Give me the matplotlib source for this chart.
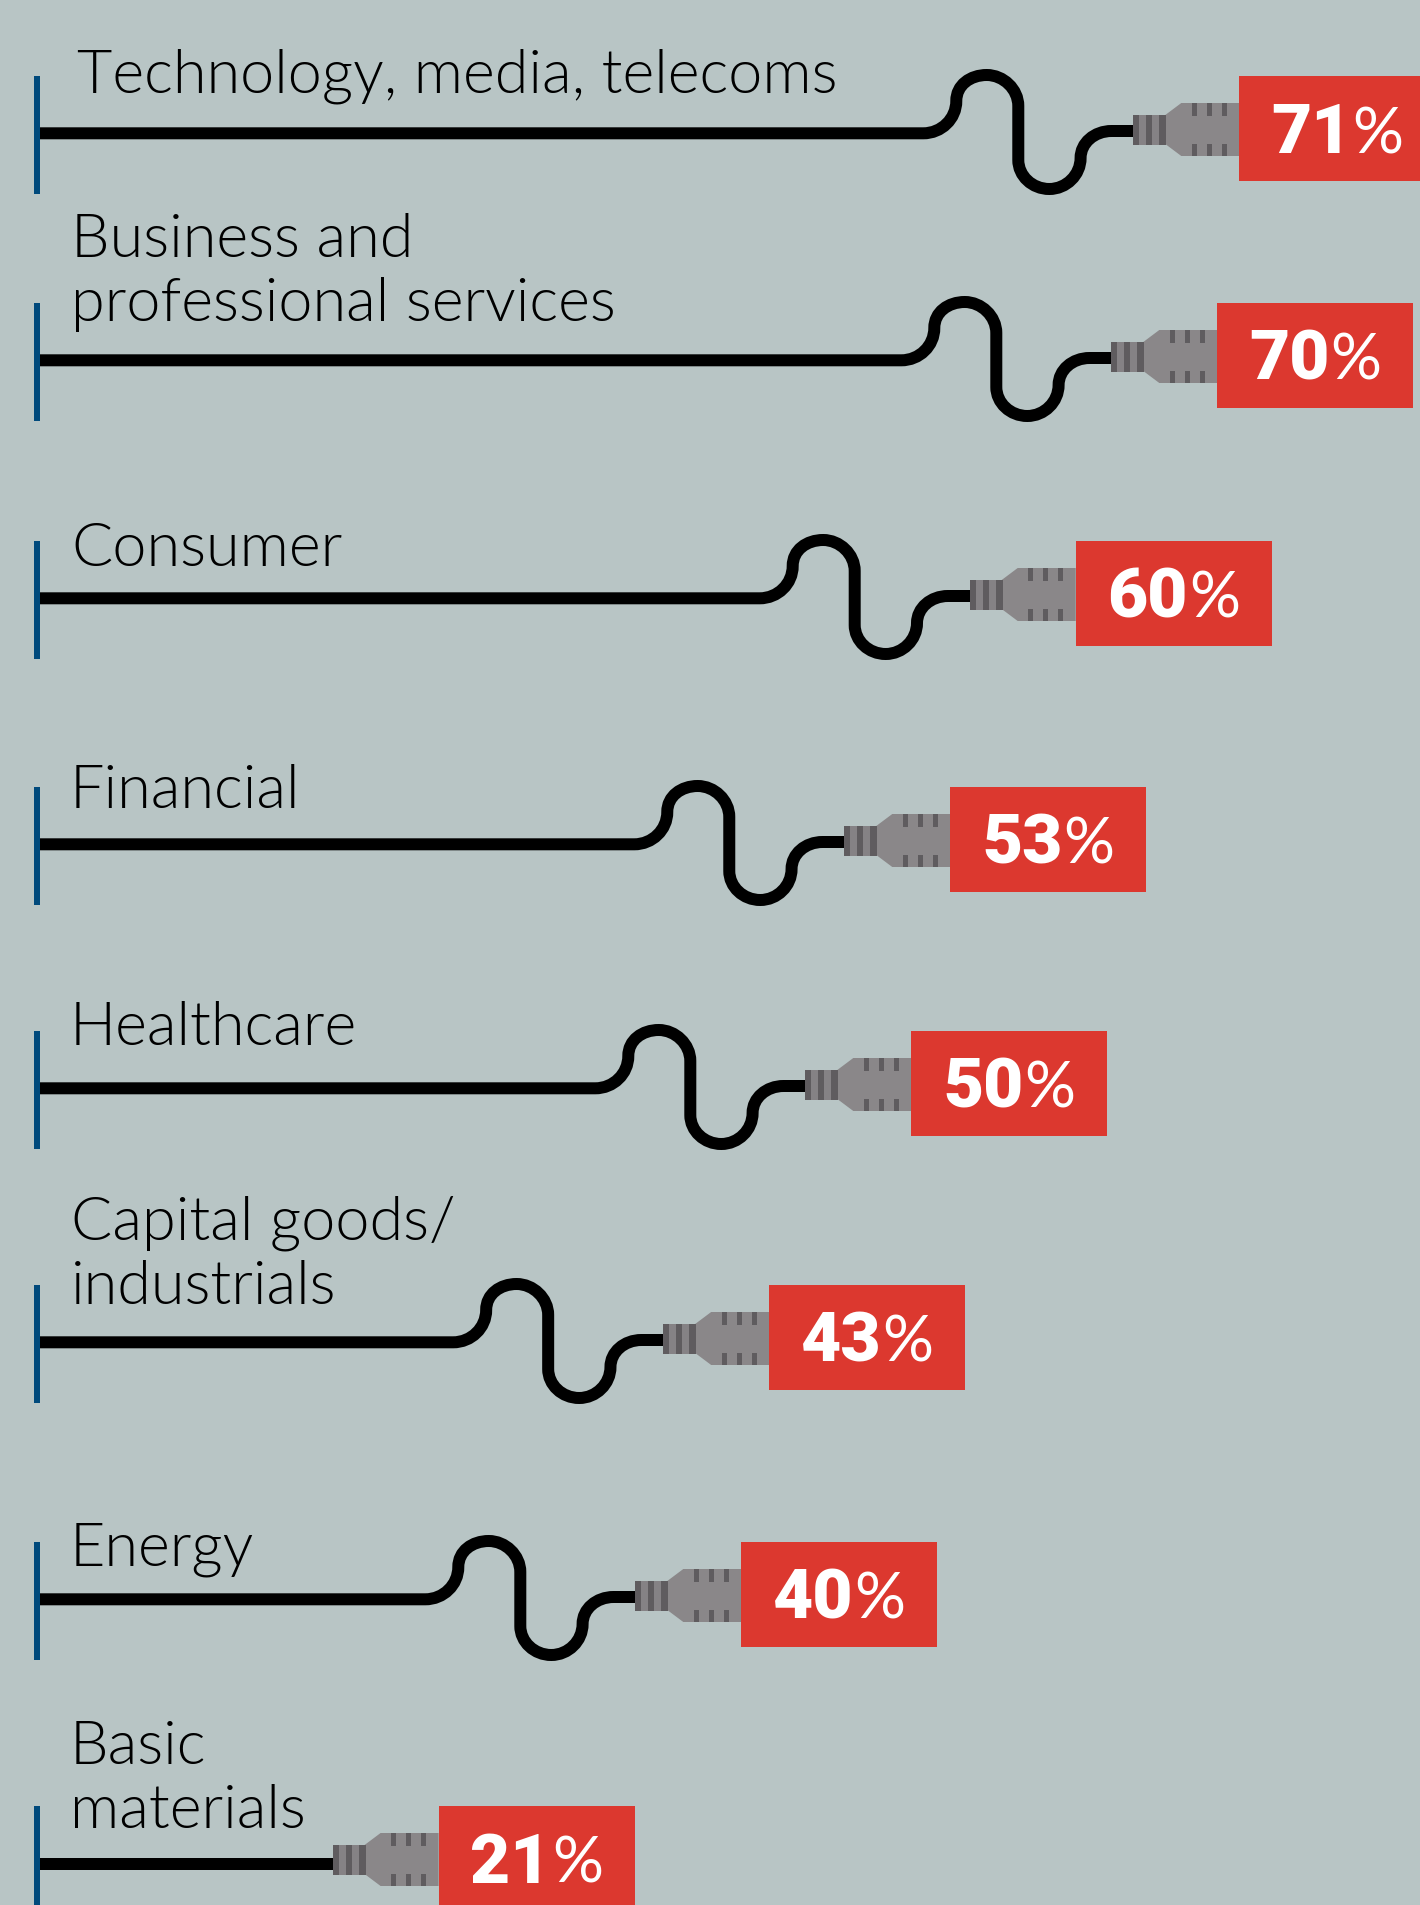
import numpy as np
import matplotlib
matplotlib.use('Agg')
import matplotlib.pyplot as plt
from matplotlib.path import Path
from matplotlib.patches import PathPatch, Polygon, Rectangle

sectors = ['Technology, media, telecoms', 'Business and\nprofessional services', 'Consumer',
           'Financial', 'Healthcare', 'Capital goods/\nindustrials', 'Energy', 'Basic\nmaterials']
values = [71, 70, 60, 53, 50, 43, 40, 21]
# rows with enough length get the wiggle in the cable
has_wiggle = [True, True, True, True, True, True, True, False]

# layout, in pixels
row_top = [77, 304, 542, 788, 1032, 1286, 1543, 1807]
label_y = [92.7, 257, 566.5, 808, 1045.5, 1240, 1566, 1764]
label_x = [77, 71, 71, 70, 70, 71, 70, 70]
line_gap = 64.5
cable_trim = [-0.7, -6.6, 12.7, -0.1, 9.2, -20.3, 0.1, 3.1]
px_start = 97.6
px_per_pct = 16.09
cable_x = 37
box_w = 196
box_h = 105

bg = '#b8c5c5'
red = '#dc382f'
plug_col = '#8a8789'
dark_col = '#5f5c5f'
blue = '#004a7c'

plt.rcParams['font.family'] = ['Lato', 'DejaVu Sans']

fig = plt.figure(figsize=(14.2, 19.06), dpi=100, facecolor=bg)
ax = fig.add_axes([0, 0, 1, 1])
ax.set_facecolor(bg)


def draw_cable(xb, top, wiggle):
    if wiggle:
        pts = [(cable_x - xb, 57.3), (-316, 57.3),
               (-298, 57.3), (-283, 43), (-283, 25),
               (-283, 9), (-269, -1), (-252.5, -1),
               (-236, -1), (-221, 13), (-221, 30),
               (-221, 84),
               (-221, 100), (-207, 113), (-190, 113),
               (-173, 113), (-158.7, 99), (-158.7, 82),
               (-158.7, 67), (-145, 55), (-127.7, 55),
               (-104, 55)]
        codes = [Path.MOVETO, Path.LINETO] + [Path.CURVE4] * 9 + [Path.LINETO] + [Path.CURVE4] * 9 + [Path.LINETO]
    else:
        pts = [(cable_x - xb, 58), (-104, 58)]
        codes = [Path.MOVETO, Path.LINETO]
    pts = np.array(pts, dtype=float) + [xb, top]
    ax.add_patch(PathPatch(Path(pts, codes), fc='none', ec='black', lw=12 * 72 / 100,
                           capstyle='butt', joinstyle='round', zorder=2))


def draw_plug(xb, top):
    head = np.array([(-74, 39), (-58, 27), (0, 27), (0, 80), (-58, 80), (-74, 68)], dtype=float)
    ax.add_patch(Polygon(head + [xb, top], fc=plug_col, ec='none', zorder=3))
    ax.add_patch(Rectangle((xb - 106, top + 39), 33, 30, fc='#858285', ec='none', zorder=3))
    for a, b in [(-106, -100), (-93, -87), (-80, -73)]:
        ax.add_patch(Rectangle((xb + a, top + 39), b - a, 30, fc=dark_col, ec='none', zorder=4))
    # the little grip notches on the plug
    for a in [-47.5, -32.5, -17.5]:
        ax.add_patch(Rectangle((xb + a, top + 27), 5, 13, fc=dark_col, ec='none', zorder=4))
        ax.add_patch(Rectangle((xb + a, top + 67.5), 5, 12.5, fc=dark_col, ec='none', zorder=4))


box_left = [px_start + px_per_pct * v + t for v, t in zip(values, cable_trim)]
ax.barh([t + box_h / 2 for t in row_top], [box_w] * len(values), height=box_h, left=box_left,
        color=red, zorder=5)

ax.set_xlim(0, 1420)
ax.set_ylim(1906, 0)
ax.axis('off')

renderer = fig.canvas.get_renderer()
for i, v in enumerate(values):
    xb = box_left[i]
    top = row_top[i]
    ax.add_patch(Rectangle((34, top), 6, 118, fc=blue, ec='none', zorder=3))
    draw_cable(xb, top, has_wiggle[i])
    draw_plug(xb, top)
    for k, line in enumerate(sectors[i].split('\n')):
        ax.text(label_x[i], label_y[i] + k * line_gap, line, fontsize=44, fontweight=300, color='black',
                va='baseline', ha='left', zorder=6)
    num = ax.text(0, top + 76, str(v), fontsize=50, fontweight=900, family='Roboto', color='white',
                  va='baseline', ha='left', zorder=6)
    pct = ax.text(0, top + 76, '%', fontsize=46, fontweight=400, color='white',
                  va='baseline', ha='left', zorder=6)
    w1 = num.get_window_extent(renderer).width
    w2 = pct.get_window_extent(renderer).width
    x0 = xb + box_w / 2 - (w1 + w2 + 1) / 2
    num.set_x(x0)
    pct.set_x(x0 + w1 + 1)

fig.savefig('out.png', dpi=100, facecolor=bg)
